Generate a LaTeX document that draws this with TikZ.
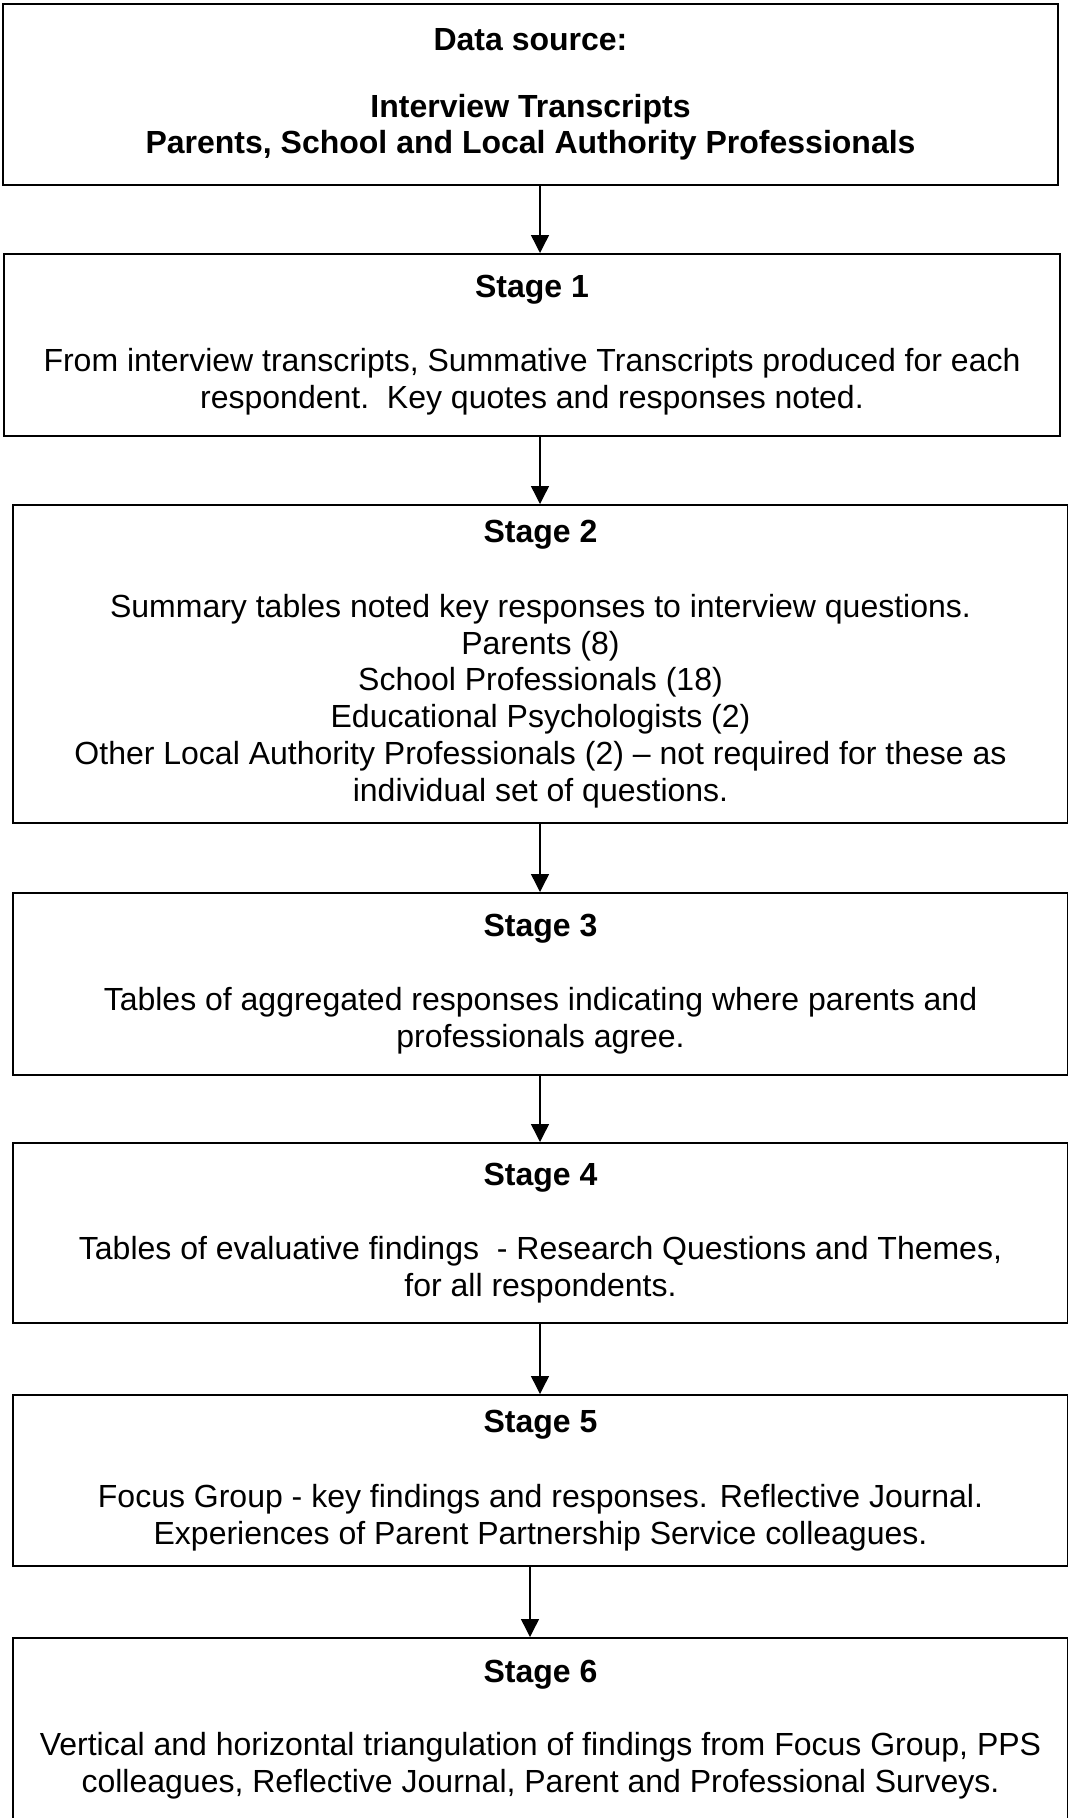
\documentclass[tikz,border=0pt]{standalone}
\usepackage{fontspec}
\setmainfont{Liberation Sans}
\usetikzlibrary{arrows.meta}
\tikzset{
  stagebox/.style={draw, line width=2pt, inner sep=0pt, align=center,
    font=\fontsize{32}{36.8}\selectfont, anchor=north west},
  flow/.style={line width=1.4pt, -{Triangle[width=18pt,length=18pt]}},
}
\begin{document}
\begin{tikzpicture}[x=1pt,y=-1pt]
\useasboundingbox (0,0) rectangle (1068,1818);
\coordinate (ax) at (540,0);
\coordinate (axb) at (530,0);

\node[stagebox, font=\fontsize{32}{36.8}\selectfont\bfseries, minimum width=1055pt, minimum height=181pt] (b0) at (2,3)
  {Data source:\\[30pt]Interview Transcripts\\Parents, School and Local Authority Professionals};

\node[stagebox, minimum width=1056pt, minimum height=182pt] (b1) at (3,253)
  {\textbf{Stage 1}\\[37pt]From interview transcripts, Summative Transcripts produced for each\\respondent.\ \ Key quotes and responses noted.};

\node[stagebox, minimum width=1055pt, minimum height=318pt] (b2) at (12,504)
  {\textbf{Stage 2}\\[38pt]Summary tables noted key responses to interview questions.\\Parents (8)\\School Professionals (18)\\Educational Psychologists (2)\\Other Local Authority Professionals (2) – not required for these as\\individual set of questions.};

\node[stagebox, minimum width=1055pt, minimum height=182pt] (b3) at (12,892)
  {\textbf{Stage 3}\\[38pt]Tables of aggregated responses indicating where parents and\\professionals agree.};

\node[stagebox, minimum width=1055pt, minimum height=180pt] (b4) at (12,1142)
  {\textbf{Stage 4}\\[38pt]Tables of evaluative findings\ \ - Research Questions and Themes,\\for all respondents.};

\node[stagebox, minimum width=1055pt, minimum height=171pt] (b5) at (12,1394)
  {\textbf{Stage 5}\\[38pt]Focus Group - key findings and responses. Reflective Journal.\\Experiences of Parent Partnership Service colleagues.};

\node[stagebox, minimum width=1055pt, minimum height=183pt] (b6) at (12,1637)
  {\textbf{Stage 6}\\[36pt]Vertical and horizontal triangulation of findings from Focus Group, PPS\\colleagues, Reflective Journal, Parent and Professional Surveys.};

\draw[flow] (b0.south -| ax) -- (b1.north -| ax);
\draw[flow] (b1.south -| ax) -- (b2.north -| ax);
\draw[flow] (b2.south -| ax) -- (b3.north -| ax);
\draw[flow] (b3.south -| ax) -- (b4.north -| ax);
\draw[flow] (b4.south -| ax) -- (b5.north -| ax);
\draw[flow] (b5.south -| axb) -- (b6.north -| axb);
\end{tikzpicture}
\end{document}
